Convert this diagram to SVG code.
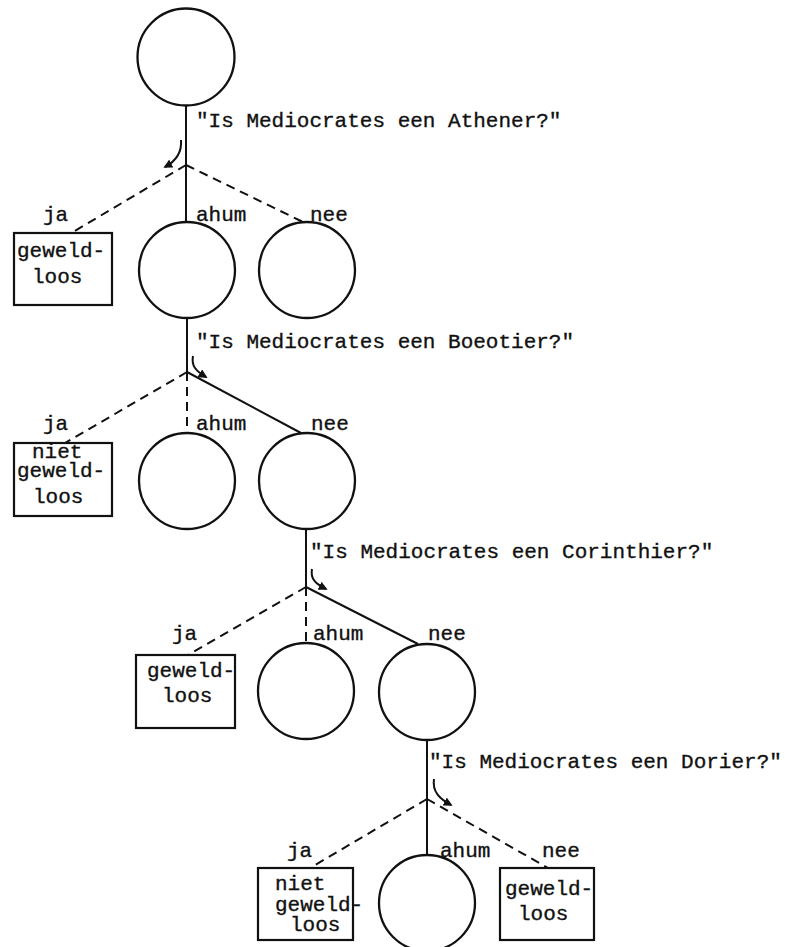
<svg xmlns="http://www.w3.org/2000/svg" width="785" height="947" viewBox="0 0 785 947">
  <style>
    .t { font-family: "Liberation Mono", "Courier New", monospace; font-size: 21px; fill: #111; stroke: #111; stroke-width: 0.35; }
    .node { fill: none; stroke: #111; stroke-width: 2.3; }
    .box { fill: none; stroke: #111; stroke-width: 2.2; }
    .solid { fill: none; stroke: #111; stroke-width: 2; }
    .dash { fill: none; stroke: #111; stroke-width: 2; stroke-dasharray: 9 6; }
    .turn { fill: none; stroke: #111; stroke-width: 2; marker-end: url(#head); }
  </style>
  <defs>
    <marker id="head" viewBox="0 0 10 10" refX="8" refY="5" markerWidth="9" markerHeight="9" markerUnits="userSpaceOnUse" orient="auto">
      <path d="M0,0 L10,5 L0,10 Z" fill="#111"/>
    </marker>
  </defs>
  <rect width="785" height="947" fill="#fff"/>

  <!-- connectors: branches and question turn-arrows -->
  <g id="connectors">
    <!-- level 1 -->
    <line class="solid" x1="186" y1="105" x2="186" y2="165"/>
    <line class="dash" x1="186" y1="165" x2="73" y2="232"/>
    <line class="solid" x1="186" y1="165" x2="186" y2="222"/>
    <line class="dash" x1="186" y1="165" x2="303" y2="222"/>
    <path class="turn" d="M181,140 C182,152 176,161 165,167"/>
    <!-- level 2 -->
    <line class="solid" x1="187" y1="318" x2="187" y2="372"/>
    <line class="dash" x1="187" y1="372" x2="65" y2="443"/>
    <line class="dash" x1="187" y1="372" x2="187" y2="433"/>
    <line class="solid" x1="187" y1="372" x2="301" y2="433"/>
    <path class="turn" d="M193,356 C191,366 196,371 206,377"/>
    <!-- level 3 -->
    <line class="solid" x1="306" y1="529" x2="306" y2="587"/>
    <line class="dash" x1="306" y1="587" x2="188" y2="655"/>
    <line class="dash" x1="306" y1="587" x2="306" y2="643"/>
    <line class="solid" x1="306" y1="587" x2="418" y2="644"/>
    <path class="turn" d="M312,569 C310,579 316,584 326,589"/>
    <!-- level 4 -->
    <line class="solid" x1="427" y1="740" x2="427" y2="799"/>
    <line class="dash" x1="427" y1="799" x2="310" y2="868"/>
    <line class="solid" x1="427" y1="799" x2="427" y2="855"/>
    <line class="dash" x1="427" y1="799" x2="548" y2="868"/>
    <path class="turn" d="M434,779 C432,792 440,799 451,805"/>
  </g>

  <!-- questions -->
  <g id="questions">
    <text class="t" x="196" y="127">"Is Mediocrates een Athener?"</text>
    <text class="t" x="196" y="348">"Is Mediocrates een Boeotier?"</text>
    <text class="t" x="310" y="558">"Is Mediocrates een Corinthier?"</text>
    <text class="t" x="429" y="768">"Is Mediocrates een Dorier?"</text>
  </g>

  <!-- branch labels -->
  <g id="labels">
    <text class="t" x="43" y="221">ja</text>
    <text class="t" x="196" y="221">ahum</text>
    <text class="t" x="310" y="221">nee</text>
    <text class="t" x="43" y="430">ja</text>
    <text class="t" x="196" y="430">ahum</text>
    <text class="t" x="311" y="430">nee</text>
    <text class="t" x="172" y="640">ja</text>
    <text class="t" x="313" y="640">ahum</text>
    <text class="t" x="428" y="640">nee</text>
    <text class="t" x="287" y="857">ja</text>
    <text class="t" x="440" y="857">ahum</text>
    <text class="t" x="542" y="857">nee</text>
  </g>

  <!-- nodes -->
  <g id="root"><circle class="node" cx="186" cy="57" r="48.5"/></g>

  <g id="ja1">
    <rect class="box" x="14" y="233" width="98" height="72"/>
    <text class="t" x="17" y="257">geweld-</text>
    <text class="t" x="32" y="283">loos</text>
  </g>
  <g id="ahum1"><circle class="node" cx="187" cy="270" r="48"/></g>
  <g id="nee1"><circle class="node" cx="307" cy="270" r="48"/></g>

  <g id="ja2">
    <rect class="box" x="14" y="443" width="98" height="73"/>
    <text class="t" x="32" y="458">niet</text>
    <text class="t" x="17" y="477">geweld-</text>
    <text class="t" x="33" y="503">loos</text>
  </g>
  <g id="ahum2"><circle class="node" cx="187" cy="481" r="48"/></g>
  <g id="nee2"><circle class="node" cx="307" cy="481" r="48"/></g>

  <g id="ja3">
    <rect class="box" x="136" y="655" width="99" height="73"/>
    <text class="t" x="147" y="677">geweld-</text>
    <text class="t" x="162" y="702">loos</text>
  </g>
  <g id="ahum3"><circle class="node" cx="306" cy="691" r="48"/></g>
  <g id="nee3"><circle class="node" cx="427" cy="692" r="48"/></g>

  <g id="ja4">
    <rect class="box" x="258" y="868" width="95" height="72"/>
    <text class="t" x="275" y="890">niet</text>
    <text class="t" x="275" y="911">geweld-</text>
    <text class="t" x="290" y="931">loos</text>
  </g>
  <g id="ahum4"><circle class="node" cx="427" cy="903" r="48"/></g>
  <g id="nee4">
    <rect class="box" x="500" y="868" width="94" height="72"/>
    <text class="t" x="505" y="895">geweld-</text>
    <text class="t" x="518" y="920">loos</text>
  </g>
</svg>
